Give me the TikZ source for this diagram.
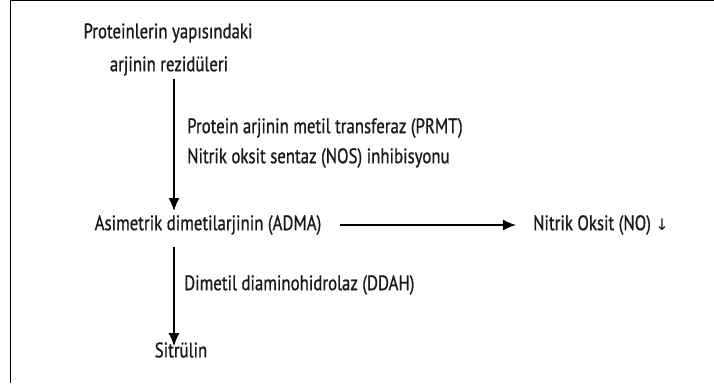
\documentclass[tikz,border=0pt]{standalone}
\usepackage{fontspec}
\setmainfont{PT Sans}[FakeStretch=0.8,FakeBold=0.8]
\newfontfamily\okfont{DejaVu Sans}
\usetikzlibrary{arrows.meta}
\begin{document}
\begin{tikzpicture}[x=1pt,y=-1pt,
	txt/.style={inner sep=0pt, text=black!90, font=\fontsize{21}{23}\selectfont},
	ok/.style={-{Latex[length=13pt,width=11pt]}, line width=1.5pt}]
	\useasboundingbox (0,0) rectangle (714,383);
	\draw[line width=1pt] (10,383) -- (10,0.5) -- (714,0.5);
	\coordinate (stem) at (174,0);
	\node[txt] (prot) at (168,33) {Proteinlerin yapısındaki};
	\node[txt] (rez) at (169,66) {arjinin rezidüleri};
	\node[txt] (adma) at (208,225) {Asimetrik dimetilarjinin (ADMA)};
	\node[txt] (no) at (601,225) {Nitrik Oksit (NO) {\okfont\fontsize{16}{18}\selectfont ↓}};
	\node[txt] (sit) at (181,350) {Sitrülin};
	\node[txt, anchor=west] (prmt) at (187,128) {Protein arjinin metil transferaz (PRMT)};
	\node[txt, anchor=west] (nos) at (187,158) {Nitrik oksit sentaz (NOS) inhibisyonu};
	\node[txt, anchor=west] (ddah) at (184,285) {Dimetil diaminohidrolaz (DDAH)};
	\draw[ok] ([yshift=-3pt]rez.south -| stem) -- ([yshift=4pt]adma.north -| stem);
	\draw[ok] ([xshift=19pt]adma.east) -- ([xshift=-17pt]no.west);
	\draw[ok] ([yshift=-12pt]adma.south -| stem) -- ([yshift=-4pt]sit.north -| stem);
\end{tikzpicture}
\end{document}
